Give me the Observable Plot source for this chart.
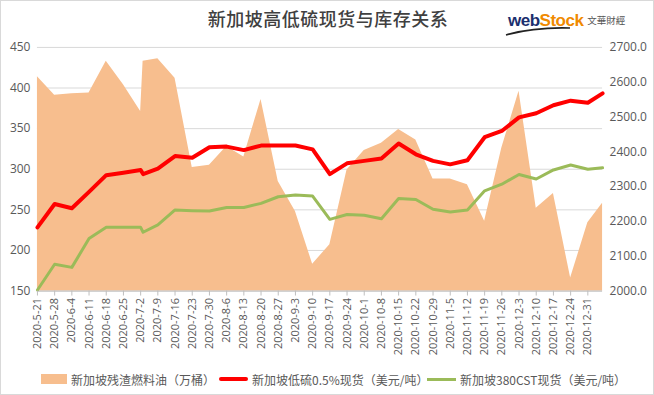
<!DOCTYPE html>
<html>
<head>
<meta charset="utf-8">
<script src="https://cdn.jsdelivr.net/npm/d3@7"></script>
<script src="https://cdn.jsdelivr.net/npm/@observablehq/plot@0.6"></script>
<style>
  body { margin: 0; background: #fff; }
  #wrap { position: relative; width: 654px; height: 395px; box-sizing: border-box; border: 1px solid #d9d9d9; overflow: hidden; font-family: "Noto Sans CJK SC", sans-serif; }
  #chart { position: absolute; left: -1px; top: -1px; }
  .title { position: absolute; left: 0; width: 654px; top: 4px; text-align: center; font-size: 18px; color: #404040; font-weight: 500; letter-spacing: 0.5px; }
  .logo { position: absolute; left: 507px; top: 6px; white-space: nowrap; }
  .logo .w { font-family: "Liberation Sans", Arial, sans-serif; font-weight: bold; font-size: 17px; color: #1b2f6e; letter-spacing: -0.5px; }
  .logo .s { font-family: "Liberation Sans", Arial, sans-serif; font-weight: bold; font-size: 17px; color: #f08a00; letter-spacing: -0.5px; }
  .logo .c { font-size: 9.5px; color: #555; margin-left: 4px; vertical-align: 2px; }
  .legend { position: absolute; top: 369px; left: 0; font-size: 12px; color: #595959; white-space: nowrap; }
  .legend .item { position: absolute; top: 0; display: flex; align-items: center; height: 18px; }
  .legend .sw { display: inline-block; margin-right: 4px; }
</style>
</head>
<body>
<div id="wrap">
  <div id="chart"></div>
  <div class="title">新加坡高低硫现货与库存关系</div>
  <div class="logo"><span class="w">web</span><span class="s">Stock</span><span class="c">文華財經</span>
    <svg width="70" height="10" style="position:absolute;left:-4px;top:19px"><path d="M2 9 Q30 1 66 2" stroke="#222" stroke-width="1.6" fill="none"/></svg>
  </div>
  <div class="legend">
    <div class="item" style="left:40px"><span class="sw" style="width:26px;height:10px;background:#F7BE8E"></span>新加坡残渣燃料油（万桶）</div>
    <div class="item" style="left:218px"><span class="sw" style="width:29px;height:4px;background:#FF0000;border-radius:2px"></span>新加坡低硫0.5%现货（美元/吨）</div>
    <div class="item" style="left:426px"><span class="sw" style="width:29px;height:3px;background:#9BBB59"></span>新加坡380CST现货（美元/吨）</div>
  </div>
</div>
<script>
const dates = ["2020-05-21","2020-05-28","2020-06-04","2020-06-11","2020-06-18","2020-06-25","2020-07-02","2020-07-03","2020-07-09","2020-07-16","2020-07-23","2020-07-30","2020-08-06","2020-08-13","2020-08-20","2020-08-27","2020-09-03","2020-09-10","2020-09-17","2020-09-24","2020-10-01","2020-10-08","2020-10-15","2020-10-22","2020-10-29","2020-11-05","2020-11-12","2020-11-19","2020-11-26","2020-12-03","2020-12-10","2020-12-17","2020-12-24","2020-12-31","2021-01-06"];
const inventory = [414,391,393,394,433,404,371,433,436,412,302,305,328,315,386,285,248,183,207,299,323,332,349,336,288,288,281,236,326,396,252,270,166,234,258];
const lsfo = [2183,2250,2238,2285,2333,2340,2348,2336,2352,2388,2383,2413,2415,2405,2418,2418,2418,2407,2336,2367,2374,2381,2424,2393,2374,2364,2376,2442,2460,2499,2511,2534,2547,2541,2568];
const cst380 = [2003,2077,2068,2151,2183,2183,2183,2169,2190,2233,2231,2230,2240,2240,2252,2271,2276,2273,2206,2220,2218,2208,2266,2263,2235,2227,2233,2288,2307,2335,2322,2348,2362,2350,2354];
const tickDates = ["2020-05-21","2020-05-28","2020-06-04","2020-06-11","2020-06-18","2020-06-25","2020-07-02","2020-07-09","2020-07-16","2020-07-23","2020-07-30","2020-08-06","2020-08-13","2020-08-20","2020-08-27","2020-09-03","2020-09-10","2020-09-17","2020-09-24","2020-10-01","2020-10-08","2020-10-15","2020-10-22","2020-10-29","2020-11-05","2020-11-12","2020-11-19","2020-11-26","2020-12-03","2020-12-10","2020-12-17","2020-12-24","2020-12-31"];
const leftTicks = [150,200,250,300,350,400,450];
const rightTicks = [2000,2100,2200,2300,2400,2500,2600,2700];

const L0 = 150, L1 = 450, R0 = 2000, R1 = 2700;
const toLeft = v => L0 + (v - R0) * (L1 - L0) / (R1 - R0);
const fromLeft = v => R0 + (v - L0) * (R1 - R0) / (L1 - L0);

const data = dates.map((d, i) => ({date: new Date(d + "T00:00:00Z"), inv: inventory[i], lsfo: lsfo[i], cst: cst380[i]}));
const fmt = d => `${d.getUTCFullYear()}-${d.getUTCMonth() + 1}-${d.getUTCDate()}`;

const chart = Plot.plot({
  width: 654,
  height: 395,
  marginTop: 47,
  marginBottom: 104,
  marginLeft: 37,
  marginRight: 51,
  style: {fontFamily: "'Open Sans','Noto Sans CJK SC',sans-serif", fontSize: "11px", color: "#595959", background: "transparent"},
  x: {type: "utc", domain: [data[0].date, data[data.length - 1].date]},
  y: {domain: [L0, L1]},
  marks: [
    Plot.ruleY(leftTicks, {stroke: "#d9d9d9", strokeWidth: 1}),
    Plot.areaY(data, {x: "date", y1: L0, y2: "inv", fill: "#F7BE8E", curve: "linear"}),
    Plot.ruleY([L0], {stroke: "#bfbfbf"}),
    Plot.lineY(data, {x: "date", y: d => toLeft(d.cst), stroke: "#9BBB59", strokeWidth: 3, curve: "linear"}),
    Plot.lineY(data, {x: "date", y: d => toLeft(d.lsfo), stroke: "#FF0000", strokeWidth: 4, curve: "linear", strokeLinejoin: "round"}),
    Plot.axisY({ticks: leftTicks, tickSize: 0, tickPadding: 7, fontSize: 12, label: null}),
    Plot.axisY({anchor: "right", ticks: rightTicks.map(toLeft), tickFormat: d => fromLeft(d).toFixed(1), tickSize: 0, tickPadding: 7, fontSize: 12, label: null}),
    Plot.axisX({ticks: tickDates.map(d => new Date(d + "T00:00:00Z")), tickFormat: fmt, tickRotate: -90, tickSize: 5, tickPadding: 2, stroke: "#bfbfbf", fontSize: 11, label: null})
  ]
});
document.getElementById("chart").appendChild(chart);
</script>
</body>
</html>
